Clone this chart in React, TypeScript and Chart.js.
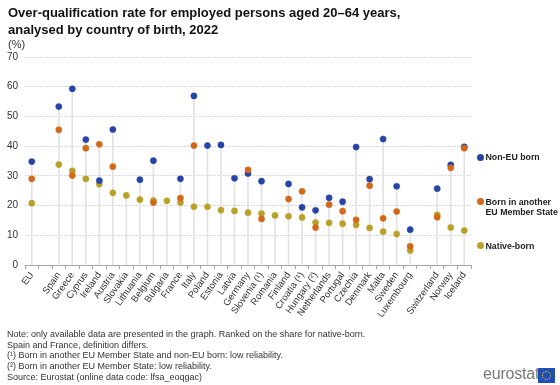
import React, { useEffect, useRef } from "react";
import { Chart, registerables } from "chart.js";
Chart.register(...registerables);

const categories = [
  "EU", "", "Spain", "Greece", "Cyprus", "Ireland", "Austria", "Slovakia", "Lithuania",
  "Belgium", "Bulgaria", "France", "Italy", "Poland", "Estonia", "Latvia", "Germany",
  "Slovenia (¹)", "Romania", "Finland", "Croatia (¹)", "Hungary (²)", "Netherlands",
  "Portugal", "Czechia", "Denmark", "Malta", "Sweden", "Luxembourg", "", "Switzerland",
  "Norway", "Iceland",
];

const nonEUBorn = [
  34.8, null, 53.3, 59.3, 42.2, 28.4, 45.6, null, 28.7,
  35.1, null, 29.0, 56.9, 40.2, 40.4, 29.2, 30.8,
  28.2, null, 27.3, 19.4, 18.4, 22.6,
  21.3, 39.7, 28.9, 42.4, 26.5, 11.9, null, 25.7,
  33.7, 39.8,
];

const otherEUBorn = [
  29.0, null, 45.5, 30.1, 39.3, 40.6, 33.1, null, null,
  21.0, null, 22.5, 40.2, null, null, null, 32.0,
  15.5, null, 22.2, 24.8, 12.6, 20.3,
  18.1, 15.2, 26.7, 15.7, 18.0, 6.3, null, 16.1,
  32.7, 39.3,
];

const nativeBorn = [
  20.8, null, 33.8, 31.7, 29.0, 27.2, 24.3, 23.4, 22.0,
  21.7, 21.6, 21.0, 19.6, 19.6, 18.5, 18.2, 17.6,
  17.3, 16.7, 16.4, 16.0, 14.3, 14.2,
  13.9, 13.5, 12.5, 11.2, 10.4, 4.9, null, 16.9,
  12.6, 11.6,
];

const yTicks = [0, 10, 20, 30, 40, 50, 60, 70];

const seriesNames = ["Non-EU born", "Born in another EU Member State", "Native-born"];
const BLUE = "#2644A7";
const ORANGE = "#D2691A";
const GOLD = "#B9A128";
const FONT = 'Arial, "Liberation Sans", sans-serif';

export default function App() {
  const ref = useRef<HTMLCanvasElement | null>(null);

  useEffect(() => {
    if (!ref.current) return;
    const stems = categories.map((_, i) => {
      const vals = [nonEUBorn[i], otherEUBorn[i], nativeBorn[i]].filter(
        (v) => v !== null
      ) as number[];
      return vals.length ? [0, Math.max(...vals)] : null;
    });
    const pointDs = (label: string, data: (number | null)[], color: string, order: number) => ({
      type: "line" as const,
      label,
      data,
      showLine: false,
      pointRadius: 3.1,
      pointHoverRadius: 3.1,
      pointBackgroundColor: color,
      pointBorderColor: color,
      pointBorderWidth: 0.5,
      borderColor: color,
      backgroundColor: color,
      order,
    });
    const chart = new Chart(ref.current, {
      type: "bar",
      data: {
        labels: categories,
        datasets: [
          {
            type: "bar",
            label: "stem",
            data: stems as any,
            backgroundColor: "#e2e2e2",
            borderWidth: 0,
            barThickness: 1,
            order: 10,
          } as any,
          pointDs(seriesNames[2], nativeBorn, GOLD, 3),
          pointDs(seriesNames[0], nonEUBorn, BLUE, 2),
          pointDs(seriesNames[1], otherEUBorn, ORANGE, 1),
        ],
      },
      options: {
        responsive: false,
        animation: false,
        layout: { padding: { top: 57, left: 0, right: 7, bottom: 0 } },
        plugins: {
          legend: { display: false },
          tooltip: { enabled: false },
          title: { display: false },
        },
        scales: {
          x: {
            type: "category",
            offset: true,
            grid: {
              display: true,
              drawOnChartArea: false,
              drawTicks: true,
              tickLength: 4,
              offset: true,
              color: "#a6a6a6",
            },
            border: { display: true, color: "#a6a6a6" },
            ticks: {
              autoSkip: false,
              minRotation: 55,
              maxRotation: 55,
              padding: 1,
              color: "#333333",
              font: { family: FONT, size: 9.5 },
            },
            afterFit: (s: any) => {
              s.height = 65;
            },
          },
          y: {
            min: 0,
            max: 70,
            afterBuildTicks: (s: any) => {
              s.ticks = yTicks.map((v) => ({ value: v }));
            },
            grid: {
              color: "#dadada",
              drawTicks: false,
              lineWidth: 1,
            },
            border: { display: false, dash: [2, 1] },
            ticks: {
              padding: 7,
              color: "#333333",
              font: { family: FONT, size: 10 },
            },
            afterFit: (s: any) => {
              s.width = 25;
            },
          },
        },
      },
    } as any);
    return () => chart.destroy();
  }, []);

  const legendItem = (color: string, lines: string[], top: number) => (
    <div
      style={{
        position: "absolute",
        left: 477,
        top,
        display: "flex",
        alignItems: "flex-start",
        fontFamily: FONT,
        fontWeight: "bold",
        fontSize: 8.8,
        lineHeight: "10.3px",
        color: "#222",
        whiteSpace: "nowrap",
      }}
    >
      <span
        style={{
          display: "inline-block",
          width: 7,
          height: 7,
          borderRadius: "50%",
          background: color,
          marginTop: 1.6,
          marginRight: 1.5,
          flexShrink: 0,
        }}
      />
      <span>
        {lines.map((l, i) => (
          <div key={i}>{l}</div>
        ))}
      </span>
    </div>
  );

  return (
    <div
      style={{
        position: "absolute",
        left: 0,
        top: 0,
        width: 560,
        height: 385,
        background: "#fff",
        overflow: "hidden",
        fontFamily: FONT,
      }}
    >
      <canvas
        ref={ref}
        width={478}
        height={330}
        style={{ position: "absolute", left: 0, top: 0, width: 478, height: 330 }}
      />
      <div
        style={{
          position: "absolute",
          left: 8,
          top: 4,
          fontSize: 13,
          fontWeight: "bold",
          lineHeight: "17px",
          color: "#111",
        }}
      >
        <div>Over-qualification rate for employed persons aged 20–64 years,</div>
        <div>analysed by country of birth, 2022</div>
      </div>
      <div
        style={{
          position: "absolute",
          left: 8,
          top: 38,
          fontSize: 11,
          lineHeight: "13px",
          color: "#333",
        }}
      >
        (%)
      </div>
      {legendItem(BLUE, ["Non-EU born"], 152)}
      {legendItem(ORANGE, ["Born in another", "EU Member State"], 196.5)}
      {legendItem(GOLD, ["Native-born"], 240.5)}
      <div
        style={{
          position: "absolute",
          left: 7,
          top: 329,
          fontSize: 9,
          lineHeight: "10.7px",
          color: "#333",
          whiteSpace: "nowrap",
        }}
      >
        <div>Note: only available data are presented in the graph. Ranked on the share for native-born.</div>
        <div>Spain and France, definition differs.</div>
        <div>(¹) Born in another EU Member State and non-EU  born: low reliability.</div>
        <div>(²) Born in another EU Member State: low reliability.</div>
        <div>Source: Eurostat (online data code: lfsa_eoqgac)</div>
      </div>
      <div
        style={{
          position: "absolute",
          left: 483,
          top: 365,
          fontSize: 16,
          lineHeight: "18px",
          color: "#777",
          letterSpacing: -0.2,
        }}
      >
        eurostat
      </div>
      <div
        style={{
          position: "absolute",
          left: 538,
          top: 368,
          width: 17,
          height: 15,
          background: "#1F4FB4",
        }}
      >
        <div
          style={{
            position: "absolute",
            left: 4,
            top: 3,
            width: 7,
            height: 7,
            borderRadius: "50%",
            border: "1px dotted #FFD200",
          }}
        />
      </div>
    </div>
  );
}
